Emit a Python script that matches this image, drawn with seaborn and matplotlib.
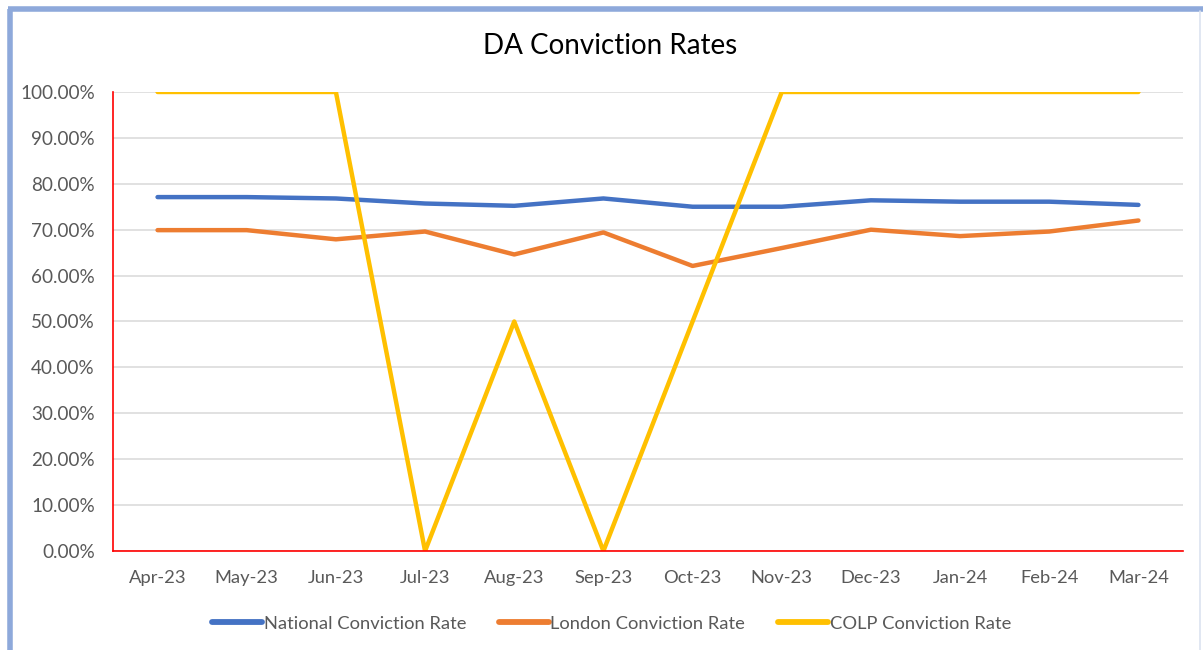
import matplotlib.pyplot as plt
import matplotlib.ticker as mticker
from matplotlib.lines import Line2D
import pandas as pd
import seaborn as sns

# data
months = ["Apr-23", "May-23", "Jun-23", "Jul-23", "Aug-23", "Sep-23",
          "Oct-23", "Nov-23", "Dec-23", "Jan-24", "Feb-24", "Mar-24"]
national = [0.771, 0.771, 0.768, 0.757, 0.752, 0.768, 0.750, 0.750, 0.764, 0.761, 0.761, 0.754]
london = [0.699, 0.699, 0.679, 0.696, 0.646, 0.694, 0.621, 0.660, 0.700, 0.686, 0.696, 0.720]
colp = [1.0, 1.0, 1.0, 0.0, 0.5, 0.0, 0.5, 1.0, 1.0, 1.0, 1.0, 1.0]

series_names = ["National Conviction Rate", "London Conviction Rate", "COLP Conviction Rate"]
colors = ["#4472C4", "#ED7D31", "#FFC000"]

df = pd.DataFrame({"Month": months,
                   series_names[0]: national,
                   series_names[1]: london,
                   series_names[2]: colp})
df["pos"] = range(len(months))
long = df.melt(id_vars=["Month", "pos"], var_name="Series", value_name="Rate")

sns.set_style("white")
plt.rcParams["font.family"] = ["Lato", "DejaVu Sans"]
text_col = "#595959"

fig = plt.figure(figsize=(12.03, 6.5), dpi=100)
ax = fig.add_axes([0.0939, 0.1523, 0.8895, 0.7062])

sns.lineplot(data=long, x="pos", y="Rate", hue="Series", hue_order=series_names,
             palette=colors, linewidth=3.2, sort=False, ax=ax,
             solid_capstyle="round", solid_joinstyle="round")

ax.set_xlim(-0.5, len(months) - 0.5)
ax.set_ylim(0, 1)
ax.yaxis.set_major_locator(mticker.MultipleLocator(0.1))
ax.yaxis.set_major_formatter(mticker.PercentFormatter(1.0, decimals=2))
ax.set_xticks(range(len(months)))
ax.set_xticklabels(months)
ax.set_xticks([i - 0.5 for i in range(len(months) + 1)], minor=True)
ax.tick_params(axis="x", which="major", length=0, pad=14, labelsize=13.2, labelcolor=text_col)
ax.tick_params(axis="x", which="minor", length=5, width=1.2, color="red", direction="out")
ax.tick_params(axis="y", length=0, pad=13, labelsize=13.6, labelcolor=text_col)
ax.set_xlabel("")
ax.set_ylabel("")

ax.grid(axis="y", color="#D9D9D9", linewidth=1.1)
ax.set_axisbelow(True)
for s in ["top", "right"]:
    ax.spines[s].set_visible(False)
for s in ["left", "bottom"]:
    ax.spines[s].set_color("red")
    ax.spines[s].set_linewidth(1.2)

fig.text(610 / 1203, 1 - 46 / 650, "DA Conviction Rates", fontsize=20,
         color="#000000", ha="center", va="center")

leg = ax.legend(loc="upper center", bbox_to_anchor=(0.466, -0.105), ncol=3, frameon=False,
                fontsize=13.2, handlelength=2.7, handletextpad=0.1, columnspacing=1.8)
for t in leg.get_texts():
    t.set_color(text_col)
for h in leg.get_lines():
    h.set_linewidth(4.2)

# selection border round the chart (left and top thick, right faint)
fig.add_artist(Line2D([9.5 / 1203, 9.5 / 1203], [0, 1 - 9 / 650], transform=fig.transFigure,
                      color="#8EA9DB", linewidth=4, solid_capstyle="butt"))
fig.add_artist(Line2D([7.5 / 1203, 1], [1 - 9 / 650, 1 - 9 / 650], transform=fig.transFigure,
                      color="#8EA9DB", linewidth=4, solid_capstyle="butt"))
fig.add_artist(Line2D([1200 / 1203, 1200 / 1203], [0, 1 - 11 / 650], transform=fig.transFigure,
                      color="#DCE3F0", linewidth=1.2))

fig.savefig("out.png", dpi=100)
